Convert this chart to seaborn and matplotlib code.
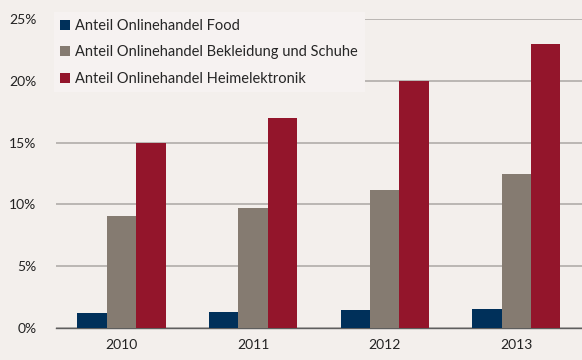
import pandas as pd
import matplotlib
matplotlib.use('Agg')
import matplotlib.pyplot as plt
import seaborn as sns
from matplotlib.ticker import FixedLocator

# Daten
jahre = ['2010', '2011', '2012', '2013']
food = [1.25, 1.33, 1.45, 1.5]
bekleidung = [9.1, 9.7, 11.15, 12.45]
heimelektronik = [15.0, 17.0, 20.0, 23.0]
serien = ['Anteil Onlinehandel Food',
          'Anteil Onlinehandel Bekleidung und Schuhe',
          'Anteil Onlinehandel Heimelektronik']
farben = ['#00305A', '#857B71', '#93152B']

df = pd.DataFrame({
    'Jahr': jahre * 3,
    'Anteil': food + bekleidung + heimelektronik,
    'Serie': [serien[0]] * 4 + [serien[1]] * 4 + [serien[2]] * 4,
})

sns.set_style('white')
plt.rcParams['font.family'] = ['Lato', 'DejaVu Sans']

bg = '#F3EFEC'
fig = plt.figure(figsize=(5.82, 3.60), dpi=100, facecolor=bg)
ax = fig.add_axes([0.0957, 0.089, 0.9043, 0.858])
ax.set_facecolor(bg)

sns.barplot(data=df, x='Jahr', y='Anteil', hue='Serie', palette=farben,
            width=0.67, gap=0, saturation=1, ax=ax, edgecolor='none', zorder=3)

ax.set_ylim(0, 25)
ax.set_yticks([0, 5, 10, 15, 20, 25])
ax.set_yticklabels(['0%', '5%', '10%', '15%', '20%', '25%'])
ax.yaxis.grid(True, color='#ABA7A3', linewidth=1.1, zorder=0)
ax.set_axisbelow(True)
ax.set_xlim(-0.5, 3.5)

for s in ['top', 'right', 'left']:
    ax.spines[s].set_visible(False)
ax.spines['bottom'].set_color('#5E5E5E')
ax.spines['bottom'].set_linewidth(1.0)

ax.tick_params(axis='y', length=0, pad=14, labelsize=10, labelcolor='#222222')
ax.tick_params(axis='x', which='major', length=0, pad=8, labelsize=10, labelcolor='#222222')
ax.xaxis.set_minor_locator(FixedLocator([-0.5, 0.5, 1.5, 2.5]))
ax.tick_params(axis='x', which='minor', length=5, width=1, color='#5E5E5E', direction='out')
ax.set_xlabel('')
ax.set_ylabel('')

leg = ax.legend(loc='upper left', bbox_to_anchor=(-0.018, 1.045), frameon=True,
                fontsize=10.5, handlelength=0.7, handleheight=0.7, handletextpad=0.35,
                labelspacing=0.85, borderpad=0.45, fancybox=False)
leg.get_frame().set_facecolor('#F6F2F1')
leg.get_frame().set_edgecolor('none')
leg.get_frame().set_alpha(1)

fig.savefig('out.png', dpi=100, facecolor=bg)
